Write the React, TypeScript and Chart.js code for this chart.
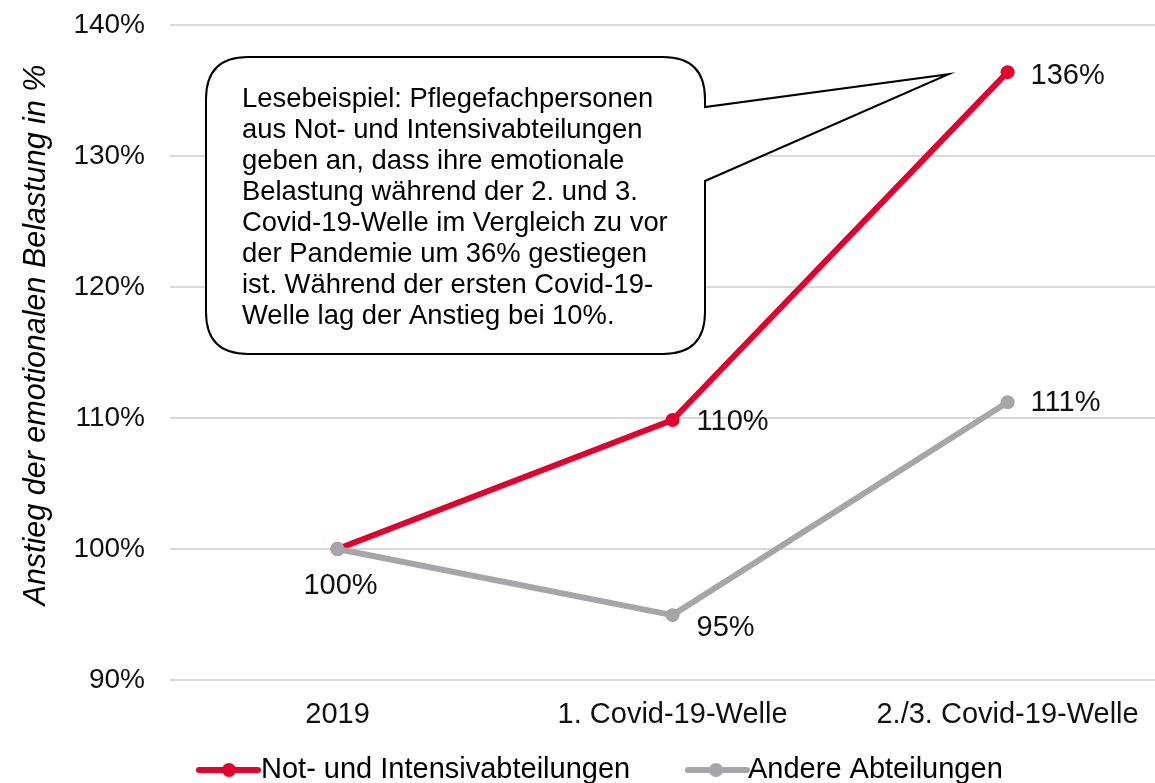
import React, { useEffect, useRef } from "react";
import { Chart, registerables } from "chart.js";

Chart.register(...registerables);

const categories = ["2019", "1. Covid-19-Welle", "2./3. Covid-19-Welle"];
const notIntensiv = [100, 109.85, 136.4];
const andere = [100, 94.95, 111.2];
const notIntensivLabels = ["", "110%", "136%"];
const andereLabels = ["100%", "95%", "111%"];
const seriesNames = ["Not- und Intensivabteilungen", "Andere Abteilungen"];
const yTicks = [90, 100, 110, 120, 130, 140];
const yTitle = "Anstieg der emotionalen Belastung in %";
const calloutLines = [
  "Lesebeispiel: Pflegefachpersonen",
  "aus Not- und Intensivabteilungen",
  "geben an, dass ihre emotionale",
  "Belastung während der 2. und 3.",
  "Covid-19-Welle im Vergleich zu vor",
  "der Pandemie um 36% gestiegen",
  "ist. Während der ersten Covid-19-",
  "Welle lag der Anstieg bei 10%.",
];

const RED = "#E3002D";
const GRAY = "#A6A6AA";
const FONT = "'Liberation Sans', Arial, sans-serif";

// label offsets (styling) per series/point
const redLabelOffsets = [
  [0, 0, "left"],
  [24, 2, "left"],
  [23, 4, "left"],
];
const grayLabelOffsets = [
  [3, 37, "center"],
  [24, 13, "left"],
  [23, 1, "left"],
];

const overlayPlugin = {
  id: "overlay",
  afterDatasetsDraw(chart: any) {
    const ctx = chart.ctx;
    const xs = chart.scales.x;
    const ys = chart.scales.y;
    ctx.save();
    // data labels
    ctx.font = `29px ${FONT}`;
    ctx.fillStyle = "#111";
    ctx.textBaseline = "middle";
    const drawLabels = (vals: number[], labels: string[], offs: any[]) => {
      vals.forEach((v, i) => {
        if (!labels[i]) return;
        const px = xs.getPixelForValue(i);
        const py = ys.getPixelForValue(v);
        ctx.textAlign = offs[i][2];
        ctx.fillText(labels[i], px + offs[i][0], py + offs[i][1]);
      });
    };
    drawLabels(notIntensiv, notIntensivLabels, redLabelOffsets);
    drawLabels(andere, andereLabels, grayLabelOffsets);

    // callout
    const L = 206, T = 57, R = 705, B = 354, r = 42;
    const tipX = xs.getPixelForValue(2) - 59;
    const tipY = ys.getPixelForValue(notIntensiv[2]) + 2;
    ctx.beginPath();
    ctx.moveTo(L + r, T);
    ctx.lineTo(R - r, T);
    ctx.quadraticCurveTo(R, T, R, T + r);
    ctx.lineTo(R, 107);
    ctx.lineTo(tipX, tipY);
    ctx.lineTo(R, 181);
    ctx.lineTo(R, B - r);
    ctx.quadraticCurveTo(R, B, R - r, B);
    ctx.lineTo(L + r, B);
    ctx.quadraticCurveTo(L, B, L, B - r);
    ctx.lineTo(L, T + r);
    ctx.quadraticCurveTo(L, T, L + r, T);
    ctx.closePath();
    ctx.fillStyle = "#fff";
    ctx.fill();
    ctx.lineWidth = 2;
    ctx.strokeStyle = "#000";
    ctx.stroke();

    ctx.fillStyle = "#000";
    ctx.font = `27.4px ${FONT}`;
    ctx.textAlign = "left";
    ctx.textBaseline = "middle";
    calloutLines.forEach((line, i) => {
      ctx.fillText(line, 242, 99 + i * 31);
    });

    // y title
    ctx.save();
    ctx.translate(37, 335);
    ctx.rotate(-Math.PI / 2);
    ctx.font = `italic 30.5px ${FONT}`;
    ctx.textAlign = "center";
    ctx.textBaseline = "middle";
    ctx.fillStyle = "#000";
    ctx.fillText(yTitle, 0, 0);
    ctx.restore();

    // legend
    const legendY = 770;
    const items = [
      { x0: 199, x1: 258, dot: 229, tx: 261, color: RED, name: seriesNames[0] },
      { x0: 688, x1: 747, dot: 716, tx: 748, color: GRAY, name: seriesNames[1] },
    ];
    items.forEach((it) => {
      ctx.strokeStyle = it.color;
      ctx.lineWidth = 6;
      ctx.lineCap = "round";
      ctx.beginPath();
      ctx.moveTo(it.x0, legendY);
      ctx.lineTo(it.x1, legendY);
      ctx.stroke();
      ctx.fillStyle = it.color;
      ctx.beginPath();
      ctx.arc(it.dot, legendY, 7, 0, Math.PI * 2);
      ctx.fill();
      ctx.fillStyle = "#000";
      ctx.font = `29px ${FONT}`;
      ctx.textAlign = "left";
      ctx.fillText(it.name, it.tx, legendY);
    });
    ctx.restore();
  },
};

export default function App() {
  const ref = useRef<HTMLCanvasElement>(null);
  useEffect(() => {
    if (!ref.current) return;
    const chart = new Chart(ref.current, {
      type: "line",
      data: {
        datasets: [
          {
            label: seriesNames[0],
            data: notIntensiv.map((v, i) => ({ x: i, y: v })),
            borderColor: RED,
            backgroundColor: RED,
            borderWidth: 6,
            pointRadius: 7,
            pointBackgroundColor: RED,
            pointBorderWidth: 0,
            order: 1,
            tension: 0,
          },
          {
            label: seriesNames[1],
            data: andere.map((v, i) => ({ x: i, y: v })),
            borderColor: GRAY,
            backgroundColor: GRAY,
            borderWidth: 6,
            pointRadius: 7,
            pointBackgroundColor: GRAY,
            pointBorderWidth: 0,
            order: 0,
            tension: 0,
          },
        ],
      },
      options: {
        animation: false,
        responsive: false,
        maintainAspectRatio: false,
        layout: { autoPadding: false, padding: { top: 25, left: 0, right: 0, bottom: 0 } },
        plugins: { legend: { display: false }, tooltip: { enabled: false } },
        scales: {
          x: {
            type: "linear",
            min: -0.5,
            max: 2.44,
            afterBuildTicks: (s: any) => {
              s.ticks = categories.map((_, i) => ({ value: i }));
            },
            afterFit: (s: any) => {
              s.height = 103;
              s.paddingLeft = 0;
              s.paddingRight = 0;
            },
            grid: { display: false, drawTicks: false },
            border: { display: false },
            ticks: {
              padding: 18,
              color: "#111",
              font: { family: FONT, size: 29 },
              maxRotation: 0,
              autoSkip: false,
              callback: (v: any) => categories[v] ?? "",
            },
          },
          y: {
            min: 90,
            max: 140,
            afterBuildTicks: (s: any) => {
              s.ticks = yTicks.map((v) => ({ value: v }));
            },
            afterFit: (s: any) => {
              s.width = 170;
              s.paddingTop = 0;
              s.paddingBottom = 0;
            },
            grid: { color: "#D9D9D9", lineWidth: 2, drawTicks: false },
            border: { display: false },
            ticks: {
              padding: 25,
              color: "#111",
              font: { family: FONT, size: 28 },
              callback: (v: any) => v + "%",
            },
          },
        },
      },
      plugins: [overlayPlugin],
    } as any);
    return () => chart.destroy();
  }, []);
  return (
    <div style={{ position: "fixed", left: 0, top: 0, width: 1155, height: 783, background: "#fff" }}>
      <canvas ref={ref} width={1155} height={783} style={{ width: 1155, height: 783 }} />
    </div>
  );
}
